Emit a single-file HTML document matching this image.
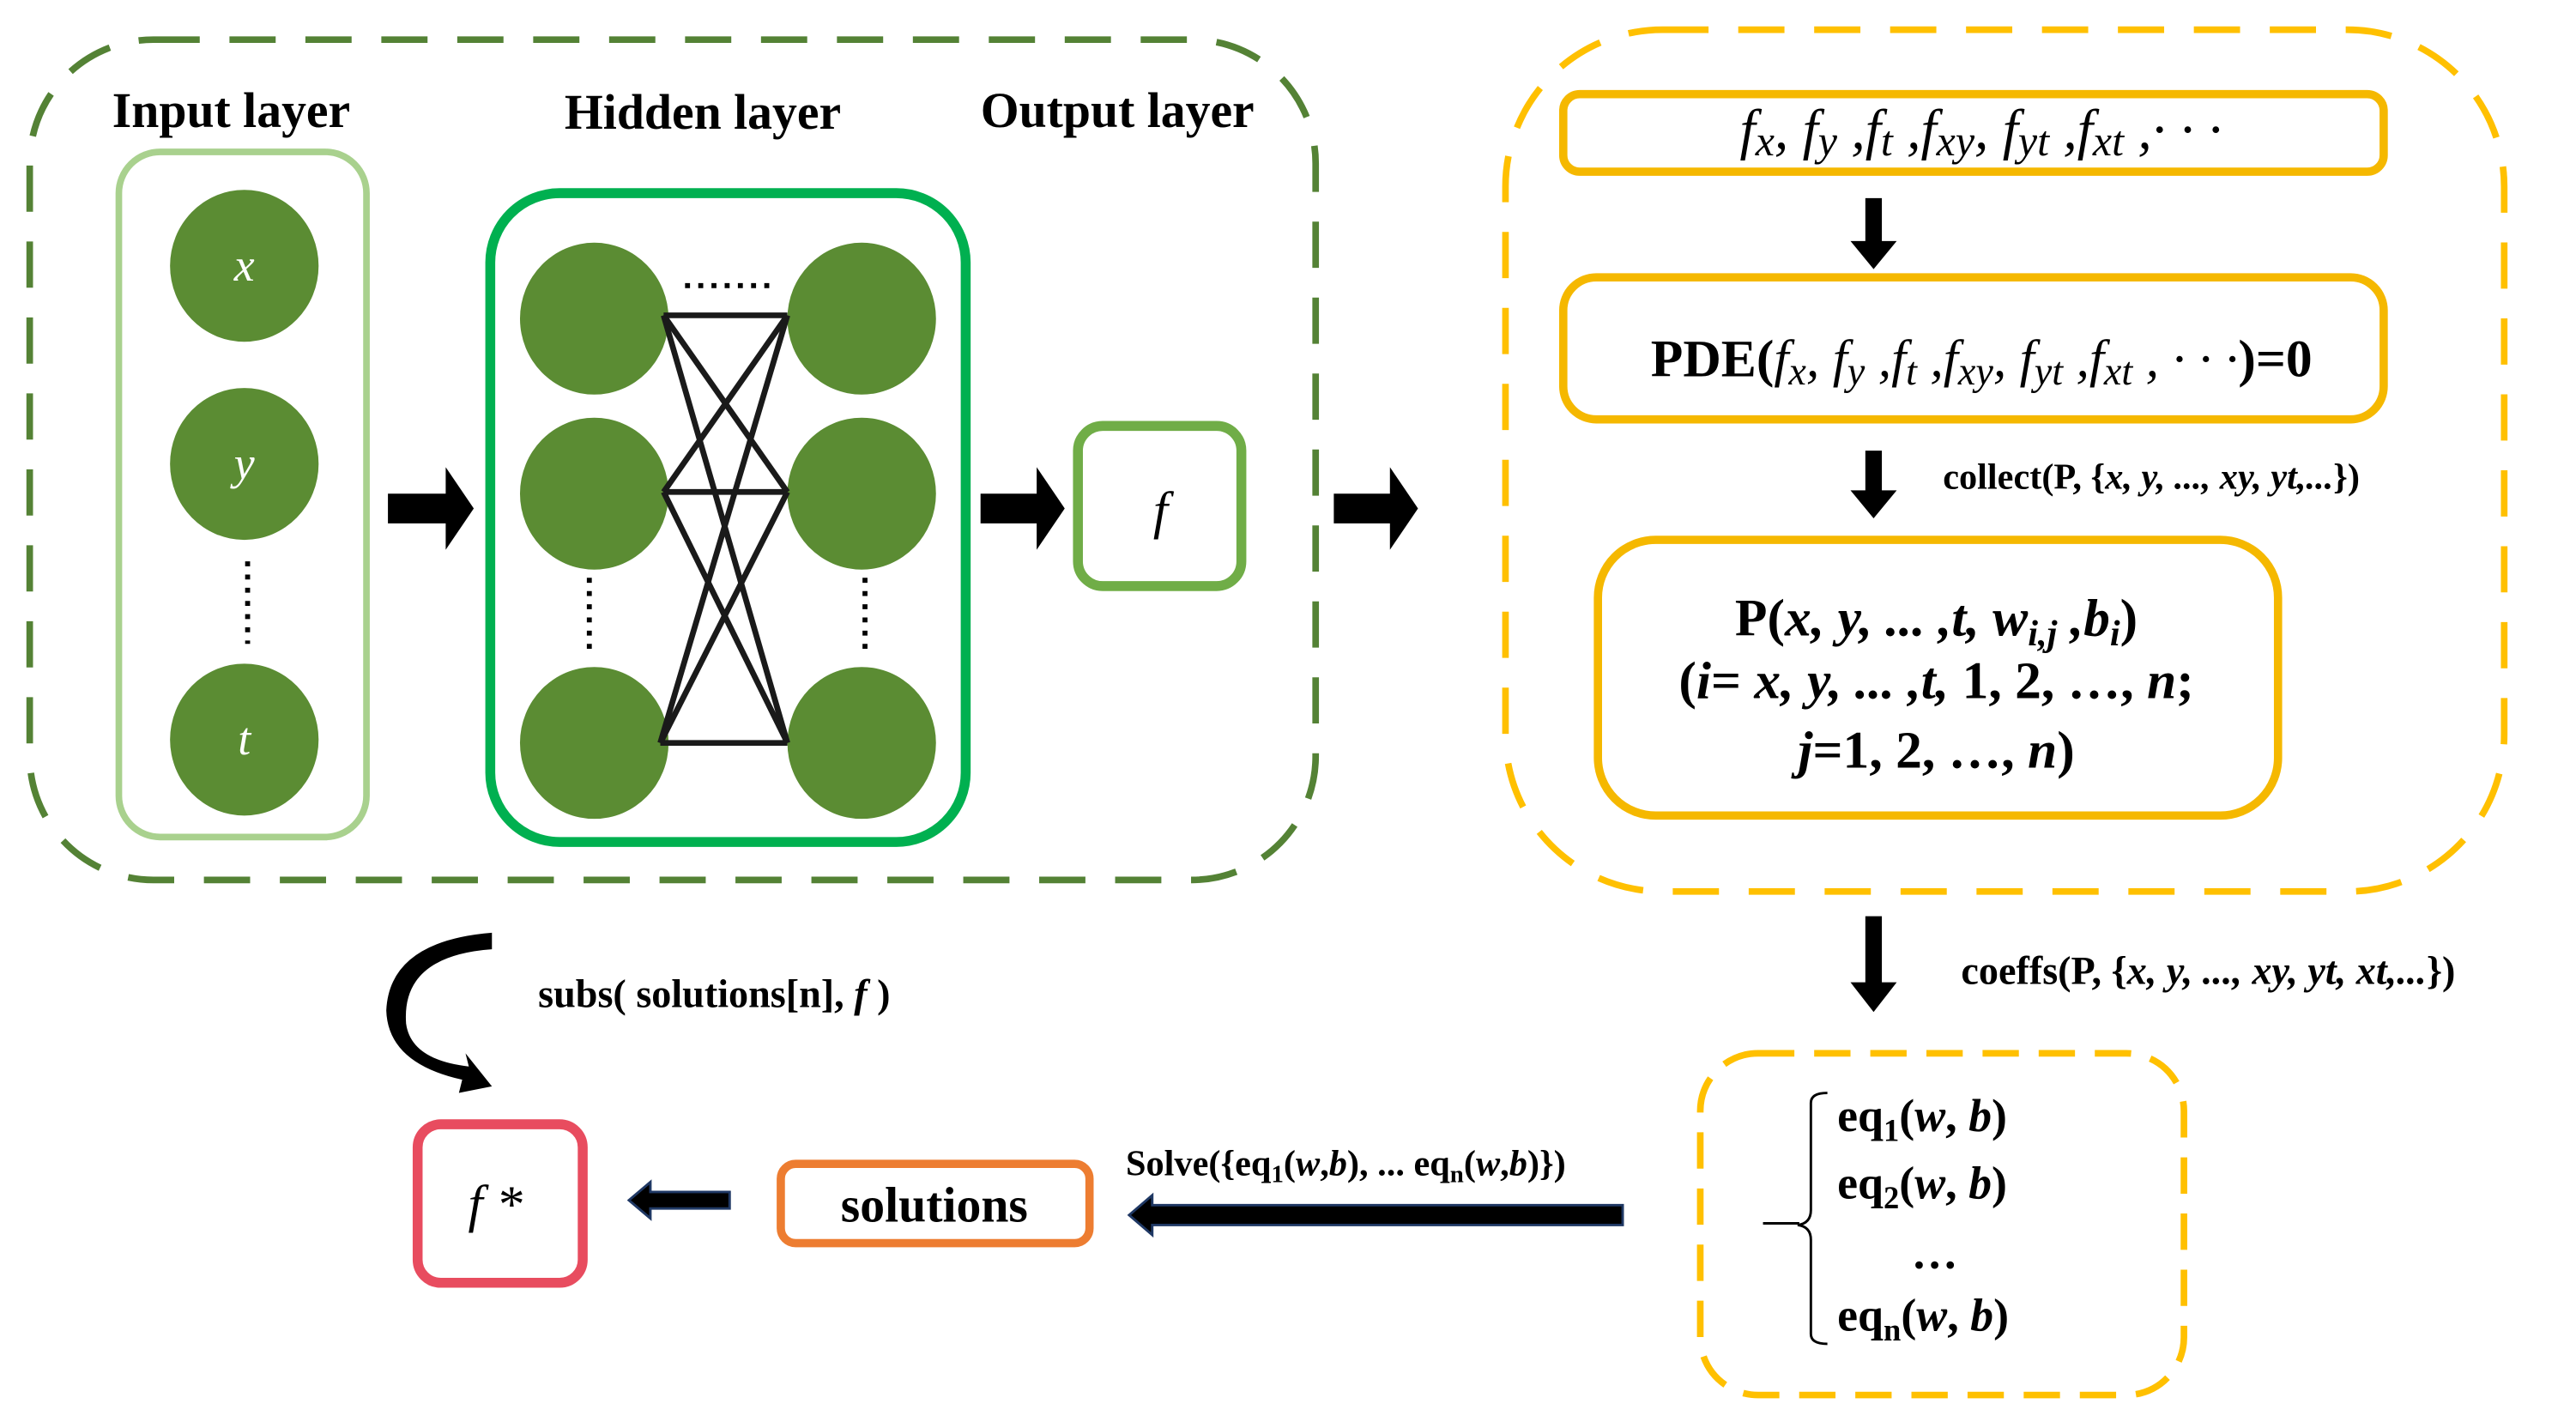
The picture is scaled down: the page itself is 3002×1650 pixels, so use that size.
<!DOCTYPE html>
<html><head><meta charset="utf-8"><style>html,body{margin:0;padding:0;background:#fff}svg{display:block}svg text{font-family:"Liberation Serif","Times New Roman","DejaVu Serif",serif !important;font-weight:bold}</style></head><body>
<svg width="3002" height="1650" viewBox="0 0 1560.5 857.7" preserveAspectRatio="none" xmlns="http://www.w3.org/2000/svg" font-family="Liberation Serif, Times New Roman, DejaVu Serif, serif">
<rect x="18" y="24" width="779" height="509" rx="75" fill="none" stroke="#548235" stroke-width="4" stroke-dasharray="28 18"/>
<text x="68" y="77" font-size="30">Input  layer</text>
<text x="342" y="78" font-size="30">Hidden layer</text>
<text x="594" y="77" font-size="30">Output layer</text>
<rect x="72" y="92" width="150" height="415" rx="25" fill="none" stroke="#a9d18e" stroke-width="4"/>
<g fill="#5b8c33">
<ellipse cx="148" cy="161" rx="45" ry="46"/><ellipse cx="148" cy="281" rx="45" ry="46"/><ellipse cx="148" cy="448" rx="45" ry="46"/>
</g>
<g fill="#fff" font-size="28" font-style="italic" text-anchor="middle">
<text x="148" y="170" style="font-weight:normal">x</text><text x="148" y="290" style="font-weight:normal">y</text><text x="148" y="457" style="font-weight:normal">t</text>
</g>
<line x1="150" y1="340" x2="150" y2="390" stroke="#000" stroke-width="3" stroke-dasharray="3 5"/>
<g fill="#000">
<path d="M235,299 h35 v-16 l17,25 l-17,25 v-16 h-35z"/>
<path d="M594,299 h34 v-16 l17,25 l-17,25 v-16 h-34z"/>
<path d="M808,299 h34 v-16 l17,25 l-17,25 v-16 h-34z"/>
</g>
<rect x="297" y="117" width="288" height="393" rx="42" fill="none" stroke="#00b050" stroke-width="6"/>
<g fill="#5b8c33">
<ellipse cx="360" cy="193" rx="45" ry="46"/><ellipse cx="360" cy="299" rx="45" ry="46"/><ellipse cx="360" cy="450" rx="45" ry="46"/>
<ellipse cx="522" cy="193" rx="45" ry="46"/><ellipse cx="522" cy="299" rx="45" ry="46"/><ellipse cx="522" cy="450" rx="45" ry="46"/>
</g>
<g stroke="#1a1a1a" stroke-width="3.5">
<line x1="402" y1="191" x2="477" y2="191"/><line x1="402" y1="298" x2="477" y2="298"/><line x1="400" y1="450" x2="477" y2="450"/>
<line x1="402" y1="191" x2="477" y2="298"/><line x1="402" y1="191" x2="477" y2="450"/>
<line x1="402" y1="298" x2="477" y2="191"/><line x1="402" y1="298" x2="477" y2="450"/>
<line x1="400" y1="450" x2="477" y2="191"/><line x1="400" y1="450" x2="477" y2="298"/>
</g>
<line x1="415" y1="173" x2="467" y2="173" stroke="#000" stroke-width="3" stroke-dasharray="3 5"/>
<line x1="357" y1="350" x2="357" y2="397" stroke="#000" stroke-width="3" stroke-dasharray="3 5"/>
<line x1="524" y1="350" x2="524" y2="397" stroke="#000" stroke-width="3" stroke-dasharray="3 5"/>
<rect x="653" y="258" width="99" height="97" rx="15" fill="none" stroke="#70ad47" stroke-width="6"/>
<text x="703" y="320" font-size="32" font-style="italic" style="font-weight:normal" text-anchor="middle">f</text>
<rect x="912" y="18" width="605" height="522" rx="95" fill="none" stroke="#ffc000" stroke-width="4" stroke-dasharray="28 18"/>
<rect x="947" y="57" width="497" height="47" rx="10" fill="none" stroke="#f5b800" stroke-width="5"/>
<text x="1200" y="90" font-size="34" font-style="italic" style="font-weight:normal" text-anchor="middle">f<tspan font-size="26" dy="4">x</tspan><tspan dy="-4">, f</tspan><tspan font-size="26" dy="4">y</tspan><tspan dy="-4"> ,f</tspan><tspan font-size="26" dy="4">t</tspan><tspan dy="-4"> ,f</tspan><tspan font-size="26" dy="4">xy</tspan><tspan dy="-4">, f</tspan><tspan font-size="26" dy="4">yt</tspan><tspan dy="-4"> ,f</tspan><tspan font-size="26" dy="4">xt</tspan><tspan dy="-4"> ,· · ·</tspan></text>
<path d="M1130,120 h10 v26 h9 l-14,17 l-14,-17 h9z" fill="#000"/>
<rect x="947" y="168" width="497" height="86" rx="20" fill="none" stroke="#f5b800" stroke-width="5"/>
<text x="1000" y="228" font-size="32">PDE(<tspan font-style="italic" font-weight="normal">f<tspan font-size="24" dy="5">x</tspan><tspan dy="-5">, f</tspan><tspan font-size="24" dy="5">y</tspan><tspan dy="-5"> ,f</tspan><tspan font-size="24" dy="5">t</tspan><tspan dy="-5"> ,f</tspan><tspan font-size="24" dy="5">xy</tspan><tspan dy="-5">, f</tspan><tspan font-size="24" dy="5">yt</tspan><tspan dy="-5"> ,f</tspan><tspan font-size="24" dy="5">xt</tspan><tspan dy="-5"> , · · ·</tspan></tspan>)=0</text>
<path d="M1130,273 h10 v24 h9 l-14,17 l-14,-17 h9z" fill="#000"/>
<text x="1177" y="296" font-size="22">collect(P, {<tspan font-style="italic">x, y, ..., xy, yt,...</tspan>})</text>
<rect x="968" y="327" width="412" height="167" rx="35" fill="none" stroke="#f5b800" stroke-width="5"/>
<g font-size="32" text-anchor="middle">
<text x="1173" y="385">P(<tspan font-style="italic">x, y, ... ,t, w<tspan font-size="22" dy="6">i,j</tspan><tspan dy="-6"> ,b</tspan><tspan font-size="22" dy="6">i</tspan></tspan><tspan dy="-6">)</tspan></text>
<text x="1173" y="423">(<tspan font-style="italic">i</tspan>= <tspan font-style="italic">x, y, ... ,t,</tspan> 1, 2, …, <tspan font-style="italic">n</tspan>;</text>
<text x="1173" y="465"><tspan font-style="italic">j</tspan>=1, 2, …, <tspan font-style="italic">n</tspan>)</text>
</g>
<path d="M1130,555 h10 v40 h9 l-14,18 l-14,-18 h9z" fill="#000"/>
<text x="1188" y="596" font-size="24">coeffs(P, {<tspan font-style="italic">x, y, ..., xy, yt, xt,...</tspan>})</text>
<rect x="1030" y="638" width="293" height="207" rx="35" fill="none" stroke="#ffc000" stroke-width="4" stroke-dasharray="22 12"/>
<path d="M1107,662 q-10,0 -10,6 v65 q0,8 -8,9 q8,1 8,9 v57 q0,6 10,6" fill="none" stroke="#000" stroke-width="1.5"/>
<path d="M1068,741 h22" stroke="#000" stroke-width="1.5"/>
<g font-size="28">
<text x="1113" y="685">eq<tspan font-size="19" dy="6">1</tspan><tspan dy="-6">(<tspan font-style="italic">w</tspan>, <tspan font-style="italic">b</tspan>)</tspan></text>
<text x="1113" y="726">eq<tspan font-size="19" dy="6">2</tspan><tspan dy="-6">(<tspan font-style="italic">w</tspan>, <tspan font-style="italic">b</tspan>)</tspan></text>
<text x="1158" y="768">…</text>
<text x="1113" y="806">eq<tspan font-size="19" dy="6">n</tspan><tspan dy="-6">(<tspan font-style="italic">w</tspan>, <tspan font-style="italic">b</tspan>)</tspan></text>
</g>
<text x="682" y="712" font-size="22">Solve({eq<tspan font-size="15" dy="4">1</tspan><tspan dy="-4">(<tspan font-style="italic">w</tspan>,<tspan font-style="italic">b</tspan>), ... eq</tspan><tspan font-size="15" dy="4">n</tspan><tspan dy="-4">(<tspan font-style="italic">w</tspan>,<tspan font-style="italic">b</tspan>)})</tspan></text>
<path d="M983,730 v12 h-285 v6 l-14,-12 l14,-12 v6z" fill="#000" stroke="#1f3864" stroke-width="1.5"/>
<rect x="473" y="705" width="187" height="48" rx="9" fill="none" stroke="#ed7d31" stroke-width="5"/>
<text x="566" y="740" font-size="30" text-anchor="middle">solutions</text>
<path d="M442,722 v10 h-48 v6 l-13,-11 l13,-11 v6z" fill="#000" stroke="#1f3864" stroke-width="1.5"/>
<rect x="253" y="681" width="100" height="96" rx="14" fill="none" stroke="#e84c5f" stroke-width="6"/>
<text x="300" y="740" font-size="32" font-style="italic" style="font-weight:normal" text-anchor="middle">f *</text>
<path d="M298,575 q-55,4 -52,45 q3,22 38,26 l-2,-8 l16,20 l-20,4 l2,-8 q-45,-10 -46,-42 q2,-42 64,-47z" fill="#000"/>
<text x="326" y="610" font-size="24">subs( solutions[n], <tspan font-style="italic">f</tspan> )</text>
</svg>
</body></html>
